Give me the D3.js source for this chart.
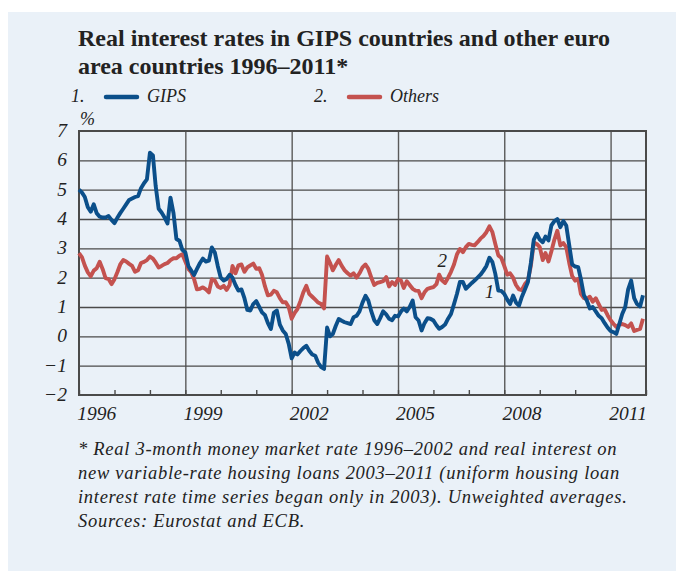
<!DOCTYPE html>
<html>
<head>
<meta charset="utf-8">
<script src="https://cdn.jsdelivr.net/npm/d3@7"></script>
<style>
  body { margin: 0; background: #fff; }
  text { font-family: "Liberation Serif", "DejaVu Serif", serif; fill: #222; }
</style>
</head>
<body>
<div id="container"></div>
<script>
// monthly values, Jan 1996 .. Dec 2011 (%)
const gips = [
  5.0, 4.9, 4.75, 4.4, 4.25, 4.5, 4.2, 4.08, 4.05, 4.05, 4.1, 3.97, // 1996
  3.86, 4.05, 4.2, 4.35, 4.5, 4.65, 4.7, 4.75, 4.78, 5.05, 5.22, 5.35, // 1997
  6.26, 6.17, 5.13, 4.35, 4.22, 4.05, 3.85, 4.73, 4.2, 3.32, 3.26, 2.95, // 1998
  2.86, 2.4, 2.25, 2.09, 2.3, 2.5, 2.65, 2.55, 2.58, 3.03, 2.86, 2.4, // 1999
  2.0, 1.9, 1.95, 2.1, 2.0, 1.75, 1.56, 1.6, 1.3, 0.9, 0.88, 1.1, // 2000
  1.2, 1.0, 0.82, 0.72, 0.45, 0.25, 0.8, 0.88, 0.4, 0.2, 0.08, -0.25, // 2001
  -0.75, -0.55, -0.62, -0.5, -0.4, -0.32, -0.49, -0.62, -0.66, -0.9, -1.05, -1.11, // 2002
  0.3, 0.0, 0.08, 0.36, 0.59, 0.53, 0.48, 0.45, 0.42, 0.65, 0.7, 0.85, // 2003
  1.15, 1.38, 1.22, 0.85, 0.55, 0.42, 0.62, 0.85, 0.75, 0.6, 0.55, 0.7, // 2004
  0.68, 0.85, 0.95, 0.85, 1.0, 1.22, 0.65, 0.54, 0.2, 0.45, 0.62, 0.6, // 2005
  0.54, 0.38, 0.26, 0.32, 0.4, 0.6, 0.76, 1.1, 1.45, 1.85, 1.85, 1.62, // 2006
  1.72, 1.82, 1.9, 2.0, 2.1, 2.24, 2.4, 2.68, 2.53, 2.13, 1.56, 1.55, // 2007
  1.45, 1.25, 1.1, 1.39, 1.15, 1.05, 1.35, 1.6, 1.85, 2.5, 3.3, 3.5, // 2008
  3.3, 3.21, 3.4, 3.27, 3.78, 3.93, 4.0, 3.72, 3.93, 3.78, 3.1, 2.45, // 2009
  2.38, 2.36, 1.95, 1.4, 1.22, 0.95, 1.0, 0.85, 0.7, 0.62, 0.45, 0.3, // 2010
  0.18, 0.14, 0.08, 0.42, 0.76, 1.0, 1.6, 1.9, 1.3, 1.1, 1.02, 1.4 // 2011
];
const others = [
  2.84, 2.69, 2.41, 2.18, 2.05, 2.24, 2.32, 2.54, 2.29, 1.98, 1.95, 1.78, // 1996
  1.95, 2.2, 2.45, 2.6, 2.55, 2.47, 2.4, 2.2, 2.25, 2.5, 2.54, 2.6, // 1997
  2.72, 2.65, 2.52, 2.35, 2.4, 2.46, 2.5, 2.6, 2.66, 2.66, 2.75, 2.8, // 1998
  2.55, 2.3, 2.2, 1.95, 1.6, 1.62, 1.67, 1.6, 1.5, 1.95, 1.9, 1.7, // 1999
  1.65, 1.72, 1.58, 1.75, 2.4, 2.15, 2.42, 2.45, 2.2, 2.35, 2.42, 2.48, // 2000
  2.3, 2.32, 2.1, 1.7, 1.4, 1.42, 1.55, 1.5, 1.3, 1.16, 1.16, 1.0, // 2001
  0.6, 0.8, 0.93, 1.2, 1.5, 1.72, 1.45, 1.35, 1.25, 1.15, 1.1, 0.95, // 2002
  2.72, 2.5, 2.25, 2.44, 2.6, 2.4, 2.25, 2.15, 2.07, 2.15, 2.0, 2.15, // 2003
  2.35, 2.45, 2.3, 2.0, 1.75, 1.82, 1.85, 1.88, 2.02, 1.7, 1.85, 1.75, // 2004
  1.95, 1.9, 1.65, 1.88, 1.75, 1.62, 1.56, 1.55, 1.3, 1.5, 1.62, 1.65, // 2005
  1.68, 1.78, 2.1, 1.9, 1.82, 2.0, 2.2, 2.45, 2.8, 2.98, 2.87, 3.04, // 2006
  3.15, 3.12, 3.1, 3.21, 3.33, 3.42, 3.55, 3.75, 3.55, 3.15, 2.76, 2.68, // 2007
  2.4, 2.1, 2.15, 2.0, 1.75, 1.6, 1.58, 1.78, 1.9, 2.4, 3.2, 3.15, // 2008
  3.04, 2.6, 2.84, 2.55, 2.9, 3.3, 3.6, 3.1, 3.18, 3.04, 2.5, 2.05, // 2009
  1.9, 1.96, 1.45, 1.3, 1.28, 1.35, 1.18, 1.3, 1.1, 0.9, 0.92, 0.72, // 2010
  0.55, 0.42, 0.32, 0.4, 0.42, 0.38, 0.32, 0.44, 0.18, 0.22, 0.25, 0.6 // 2011
];
const yTicks = [-2, -1, 0, 1, 2, 3, 4, 5, 6, 7];
const labelYears = [1996, 1999, 2002, 2005, 2008, 2011];
const titleLines = [
  "Real interest rates in GIPS countries and other euro",
  "area countries 1996–2011*"
];
const footLines = [
  "* Real 3-month money market rate 1996–2002 and real interest on",
  "new variable-rate housing loans 2003–2011 (uniform housing loan",
  "interest rate time series began only in 2003). Unweighted averages.",
  "Sources: Eurostat and ECB."
];
const series = [
  { key: "1.", name: "GIPS", values: gips, color: "#0b4f8a", tag: "1", at: [2007, 7], tagValue: 1.3 },
  { key: "2.", name: "Others", values: others, color: "#c4524f", tag: "2", at: [2006, 3], tagValue: 2.35 }
];

const months = d3.timeMonth.range(new Date(1996, 0, 1), new Date(2012, 0, 1));

const width = 676, height = 573;
const m = { left: 79, right: 646, top: 131, bottom: 395 };

const svg = d3.select("#container").append("svg")
  .attr("width", width).attr("height", height);

// light blue box behind everything
svg.append("rect").attr("x", 8).attr("y", 12)
  .attr("width", width - 8).attr("height", 559).attr("fill", "#eaf1f8");

const x = d3.scaleTime()
  .domain([new Date(1996, 0, 1), new Date(2012, 0, 1)])
  .range([m.left, m.right]);
const y = d3.scaleLinear().domain([-2, 7]).range([m.bottom, m.top]);

// title
svg.append("g").selectAll("text").data(titleLines).join("text")
  .attr("x", 78).attr("y", (d, i) => 46 + i * 28)
  .attr("font-size", 24).attr("font-weight", "bold")
  .text(d => d);

// legend
const leg = [71, 314];
series.forEach((s, i) => {
  const g = svg.append("g").attr("transform", `translate(${leg[i]},0)`);
  g.append("text").attr("x", 0).attr("y", 102).attr("font-size", 18)
    .attr("font-style", "italic").text(s.key);
  g.append("line").attr("x1", 35).attr("x2", 66).attr("y1", 97).attr("y2", 97)
    .attr("stroke", s.color).attr("stroke-width", 4.5).attr("stroke-linecap", "round");
  g.append("text").attr("x", 76).attr("y", 102).attr("font-size", 18)
    .attr("font-style", "italic").text(s.name);
});

svg.append("text").attr("x", 80).attr("y", 125).attr("font-size", 18)
  .attr("font-style", "italic").text("%");

// grid
svg.append("g")
  .attr("transform", `translate(0,${m.bottom})`)
  .call(d3.axisBottom(x).tickValues(labelYears.slice(1).map(d => new Date(d, 0, 1)))
    .tickSize(-(m.bottom - m.top)).tickFormat(""))
  .call(g => g.select(".domain").remove())
  .call(g => g.selectAll("line").attr("stroke", "#5a5a5a").attr("stroke-width", 1.4));

svg.append("g")
  .attr("transform", `translate(${m.left},0)`)
  .call(d3.axisLeft(y).tickValues(yTicks.slice(1, -1)).tickSize(-(m.right - m.left)).tickFormat(""))
  .call(g => g.select(".domain").remove())
  .call(g => g.selectAll("line").attr("stroke", "#4a4a4a").attr("stroke-width", 1.4));

// small year ticks on the bottom edge
svg.append("g")
  .attr("transform", `translate(0,${m.bottom})`)
  .call(d3.axisBottom(x).ticks(d3.timeYear.every(1)).tickSize(-5).tickFormat(""))
  .call(g => g.select(".domain").remove())
  .call(g => g.selectAll("line").attr("stroke", "#4a4a4a").attr("stroke-width", 1.4));

// frame
svg.append("rect").attr("x", m.left).attr("y", m.top)
  .attr("width", m.right - m.left).attr("height", m.bottom - m.top)
  .attr("fill", "none").attr("stroke", "#4a4a4a").attr("stroke-width", 2);

// tick labels
svg.append("g").selectAll("text").data(yTicks).join("text")
  .attr("x", 67).attr("y", d => y(d) + 6)
  .attr("text-anchor", "end").attr("font-size", 19.5).attr("font-style", "italic")
  .text(d => d < 0 ? "−" + Math.abs(d) : d);

svg.append("g").selectAll("text").data(labelYears).join("text")
  .attr("x", d => x(new Date(d, 6, 1)))
  .attr("y", 420)
  .attr("text-anchor", "middle").attr("font-size", 19.5).attr("font-style", "italic")
  .text(d => d);

// lines
const line = d3.line()
  .x((d, i) => x(months[i]))
  .y(d => y(d));

series.slice().reverse().forEach(s => {
  svg.append("path")
    .datum(s.values)
    .attr("fill", "none")
    .attr("stroke", s.color)
    .attr("stroke-width", 3.9)
    .attr("stroke-linejoin", "round")
    .attr("d", line);
  svg.append("text")
    .attr("x", x(new Date(s.at[0], s.at[1], 1)))
    .attr("y", y(s.tagValue))
    .attr("font-size", 19).attr("font-style", "italic")
    .attr("text-anchor", "middle")
    .text(s.tag);
});

// footnote
svg.append("g").selectAll("text").data(footLines).join("text")
  .attr("x", 78).attr("y", (d, i) => 455 + i * 24)
  .attr("font-size", 18.5).attr("font-style", "italic")
  .attr("letter-spacing", 0.72)
  .text(d => d);
</script>
</body>
</html>
